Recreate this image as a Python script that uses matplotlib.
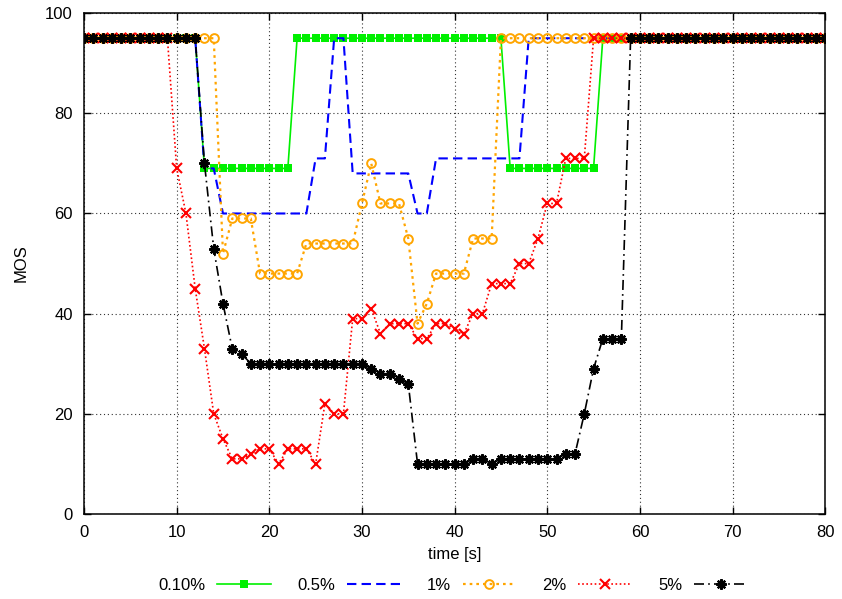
import matplotlib
matplotlib.use("Agg")
import matplotlib.pyplot as plt
from matplotlib.ticker import MultipleLocator

plt.rcParams["font.family"] = ["Liberation Sans", "DejaVu Sans"]
plt.rcParams["font.size"] = 12

# MOS sampled once per second, t = 0 .. 80 s
time_s = list(range(0, 81))

mos_010 = [
    95, 95, 95, 95, 95, 95, 95, 95, 95, 95,
    95, 95, 95, 69, 69, 69, 69, 69, 69, 69,
    69, 69, 69, 95, 95, 95, 95, 95, 95, 95,
    95, 95, 95, 95, 95, 95, 95, 95, 95, 95,
    95, 95, 95, 95, 95, 95, 69, 69, 69, 69,
    69, 69, 69, 69, 69, 69, 95, 95, 95, 95,
    95, 95, 95, 95, 95, 95, 95, 95, 95, 95,
    95, 95, 95, 95, 95, 95, 95, 95, 95, 95,
    95,
]
mos_05 = [
    95, 95, 95, 95, 95, 95, 95, 95, 95, 95,
    95, 95, 95, 69, 69, 60, 60, 60, 60, 60,
    60, 60, 60, 60, 60, 71, 71, 95, 95, 68,
    68, 68, 68, 68, 68, 68, 60, 60, 71, 71,
    71, 71, 71, 71, 71, 71, 71, 71, 95, 95,
    95, 95, 95, 95, 95, 95, 95, 95, 95, 95,
    95, 95, 95, 95, 95, 95, 95, 95, 95, 95,
    95, 95, 95, 95, 95, 95, 95, 95, 95, 95,
    95,
]
mos_1 = [
    95, 95, 95, 95, 95, 95, 95, 95, 95, 95,
    95, 95, 95, 95, 95, 52, 59, 59, 59, 48,
    48, 48, 48, 48, 54, 54, 54, 54, 54, 54,
    62, 70, 62, 62, 62, 55, 38, 42, 48, 48,
    48, 48, 55, 55, 55, 95, 95, 95, 95, 95,
    95, 95, 95, 95, 95, 95, 95, 95, 95, 95,
    95, 95, 95, 95, 95, 95, 95, 95, 95, 95,
    95, 95, 95, 95, 95, 95, 95, 95, 95, 95,
    95,
]
mos_2 = [
    95, 95, 95, 95, 95, 95, 95, 95, 95, 95,
    69, 60, 45, 33, 20, 15, 11, 11, 12, 13,
    13, 10, 13, 13, 13, 10, 22, 20, 20, 39,
    39, 41, 36, 38, 38, 38, 35, 35, 38, 38,
    37, 36, 40, 40, 46, 46, 46, 50, 50, 55,
    62, 62, 71, 71, 71, 95, 95, 95, 95, 95,
    95, 95, 95, 95, 95, 95, 95, 95, 95, 95,
    95, 95, 95, 95, 95, 95, 95, 95, 95, 95,
    95,
]
mos_5 = [
    95, 95, 95, 95, 95, 95, 95, 95, 95, 95,
    95, 95, 95, 70, 53, 42, 33, 32, 30, 30,
    30, 30, 30, 30, 30, 30, 30, 30, 30, 30,
    30, 29, 28, 28, 27, 26, 10, 10, 10, 10,
    10, 10, 11, 11, 10, 11, 11, 11, 11, 11,
    11, 11, 12, 12, 20, 29, 35, 35, 35, 95,
    95, 95, 95, 95, 95, 95, 95, 95, 95, 95,
    95, 95, 95, 95, 95, 95, 95, 95, 95, 95,
    95,
]

fig = plt.figure(figsize=(8.42, 5.99), dpi=100)
ax = fig.add_axes([0.0998, 0.142, 0.8802, 0.836])

lw = 1.2
ax.plot(time_s, mos_010, color="#00f000", linestyle="-", linewidth=lw,
        marker="s", markersize=5.8, markeredgewidth=0, label="0.10%")
ax.plot(time_s, mos_05, color="#0000ff", linestyle=(0, (4.5, 2.5)), linewidth=lw + 0.3,
        label="0.5%")
ax.plot(time_s, mos_1, color="#ffa500", linestyle=(0, (1.2, 1.8)), linewidth=lw + 0.4,
        marker="o", markersize=6.3, markerfacecolor="none", markeredgewidth=1.4,
        label="1%")
ax.plot(time_s, mos_2, color="#ff0000", linestyle=(0, (1, 1.5)), linewidth=lw,
        marker="x", markersize=6.5, markeredgewidth=1.5, label="2%")
ax.plot(time_s, mos_5, color="black", linestyle=(0, (6, 2.5, 1, 2.5)), linewidth=lw,
        marker=(8, 2, 0), markersize=7.5, markeredgewidth=1.6, label="5%")

ax.set_xlim(0, 80)
ax.set_ylim(0, 100)
ax.xaxis.set_major_locator(MultipleLocator(10))
ax.yaxis.set_major_locator(MultipleLocator(20))
ax.grid(True, linestyle=(0, (1, 2.5)), linewidth=0.8, color="#333333")
ax.set_axisbelow(True)
ax.tick_params(direction="in", length=5, width=1, top=True, right=True,
               labelsize=12, pad=8)
for spine in ax.spines.values():
    spine.set_linewidth(1.1)

ax.set_xlabel("time [s]", fontsize=12, labelpad=5)
ax.set_ylabel("MOS", fontsize=12, labelpad=12)

fig.legend(loc="center", bbox_to_anchor=(0.538, 0.022), ncol=5, frameon=False,
           markerfirst=False, numpoints=1, handlelength=3.2, handletextpad=0.7,
           columnspacing=1.6, fontsize=12)

fig.savefig("out.png", dpi=100)
